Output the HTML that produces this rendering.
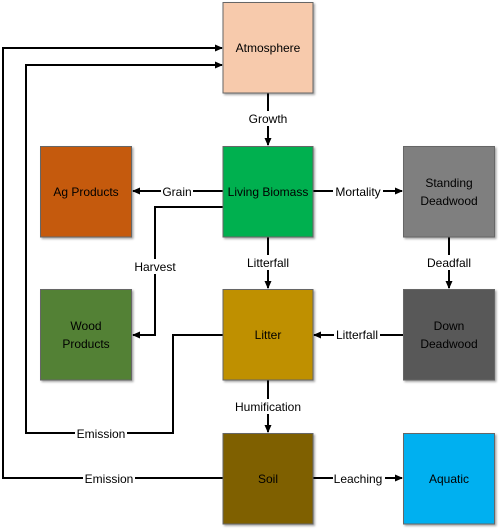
<!DOCTYPE html>
<html><head><style>
html,body{margin:0;padding:0;background:#fff;}
svg{display:block;}
text{font-family:"Liberation Sans",sans-serif;font-size:12px;fill:#000;}
</style></head><body>
<svg width="500" height="530" viewBox="0 0 500 530">
<defs>
<marker id="a" markerWidth="8" markerHeight="8" refX="7" refY="4" orient="auto" markerUnits="userSpaceOnUse">
<path d="M0,0.5 L8,4 L0,7.5 Z" fill="#000"/></marker>
<filter id="s" x="-10%" y="-10%" width="130%" height="130%"><feDropShadow dx="1.5" dy="1.5" stdDeviation="1" flood-color="#000" flood-opacity="0.35"/></filter>
</defs>
<g stroke="#000" stroke-width="2" fill="none">
<polyline points="268,93 268,145" marker-end="url(#a)"/>
<polyline points="223,191 133,191" marker-end="url(#a)"/>
<polyline points="313,191 402,191" marker-end="url(#a)"/>
<polyline points="223,207 155,207 155,335 133,335" marker-end="url(#a)"/>
<polyline points="268,237 268,288" marker-end="url(#a)"/>
<polyline points="449,237 449,288" marker-end="url(#a)"/>
<polyline points="403,335 314,335" marker-end="url(#a)"/>
<polyline points="268,380 268,432" marker-end="url(#a)"/>
<polyline points="313,478 402,478" marker-end="url(#a)"/>
<polyline points="223,335 173,335 173,433 26,433 26,65 222,65" marker-end="url(#a)"/>
<polyline points="223,478 3,478 3,48 222,48" marker-end="url(#a)"/>
</g>
<g stroke="#666" stroke-width="1" filter="url(#s)">
<rect x="223" y="2.5" width="90" height="90.5" fill="#f7caac"/>
<rect x="223" y="146.5" width="90" height="90.5" fill="#00b050"/>
<rect x="40.5" y="146.5" width="91" height="90.5" fill="#c55a11"/>
<rect x="403.5" y="146.5" width="91" height="90.5" fill="#7f7f7f"/>
<rect x="40.5" y="289.5" width="91" height="90.5" fill="#538135"/>
<rect x="223" y="289.5" width="90" height="90.5" fill="#bf9000"/>
<rect x="403.5" y="289.5" width="91" height="90.5" fill="#595959"/>
<rect x="223" y="433.5" width="90" height="90.5" fill="#7f6000"/>
<rect x="403.5" y="433.5" width="91" height="90.5" fill="#00b0f0"/>
</g>
<g text-anchor="middle">
<text x="268" y="52">Atmosphere</text>
<text x="268" y="196">Living Biomass</text>
<text x="86" y="196">Ag Products</text>
<text x="449" y="187">Standing</text>
<text x="449" y="205">Deadwood</text>
<text x="86" y="330">Wood</text>
<text x="86" y="348">Products</text>
<text x="268" y="339">Litter</text>
<text x="449" y="330">Down</text>
<text x="449" y="348">Deadwood</text>
<text x="268" y="483">Soil</text>
<text x="449" y="483">Aquatic</text>
</g>
<g text-anchor="middle">
<rect x="245" y="111" width="46" height="15" fill="#fff"/><text x="268" y="123">Growth</text>
<rect x="161" y="184" width="32" height="15" fill="#fff"/><text x="177" y="196">Grain</text>
<rect x="333" y="184" width="50" height="15" fill="#fff"/><text x="358" y="196">Mortality</text>
<rect x="131" y="259" width="48" height="15" fill="#fff"/><text x="155" y="271">Harvest</text>
<rect x="243" y="255" width="50" height="15" fill="#fff"/><text x="268" y="267">Litterfall</text>
<rect x="424" y="255" width="50" height="15" fill="#fff"/><text x="449" y="267">Deadfall</text>
<rect x="334" y="328" width="46" height="15" fill="#fff"/><text x="357" y="339">Litterfall</text>
<rect x="232" y="399" width="72" height="15" fill="#fff"/><text x="268" y="411">Humification</text>
<rect x="75" y="426" width="52" height="15" fill="#fff"/><text x="101" y="438">Emission</text>
<rect x="83" y="471" width="52" height="15" fill="#fff"/><text x="109" y="483">Emission</text>
<rect x="333" y="471" width="52" height="15" fill="#fff"/><text x="358" y="483">Leaching</text>
</g>
</svg>
</body></html>
